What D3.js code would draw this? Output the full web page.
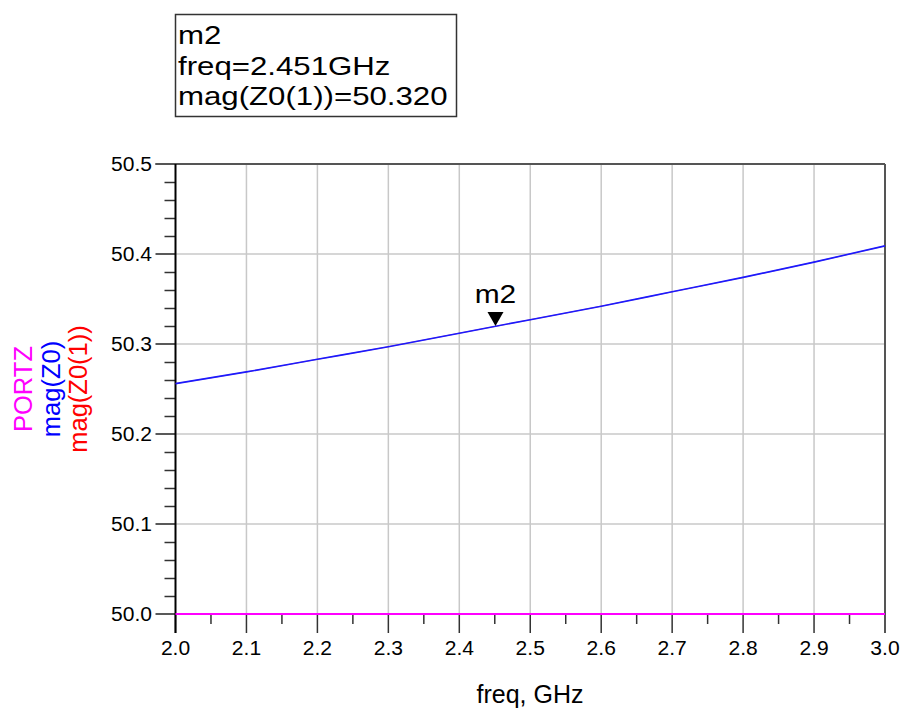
<!DOCTYPE html>
<html><head><meta charset="utf-8">
<script src="https://cdn.jsdelivr.net/npm/d3@7"></script>
<style>body{margin:0;background:#fff}svg{display:block}text{font-family:"Liberation Sans",Arial,sans-serif}</style>
</head><body><svg id="c" width="904" height="712"></svg>
<script>
const freq = [2.0,2.1,2.2,2.3,2.4,2.5,2.6,2.7,2.8,2.9,3.0];
const magZ0 = [50.256,50.269,50.283,50.297,50.312,50.327,50.342,50.358,50.374,50.391,50.409];
const magZ01 = [50.256,50.269,50.283,50.297,50.312,50.327,50.342,50.358,50.374,50.391,50.409];
const portz = [50.0,50.0,50.0,50.0,50.0,50.0,50.0,50.0,50.0,50.0,50.0];
const xTicks = [2.0,2.1,2.2,2.3,2.4,2.5,2.6,2.7,2.8,2.9,3.0];
const yTicks = [50.0,50.1,50.2,50.3,50.4,50.5];
const marker = {name:"m2", freq:2.451, value:50.320};
const legend = [{t:"PORTZ",c:"#ff00ff"},{t:"mag(Z0)",c:"#0000ff"},{t:"mag(Z0(1))",c:"#ff0000"}];

const svg = d3.select("#c");
const x = d3.scaleLinear().domain([2.0,3.0]).range([175.5,885]);
const y = d3.scaleLinear().domain([50.0,50.5]).range([614,164]);

function wideText(parent, tx, ty, str, size, sx, anchor, fill){
  return parent.append("text").attr("transform",`translate(${tx},${ty}) scale(${sx},1)`)
   .attr("text-anchor",anchor||"start").attr("font-size",size).attr("fill",fill||"#000").text(str);
}

// grid
const g = svg.append("g");
g.selectAll(".vg").data(xTicks.slice(1,-1)).enter().append("line")
 .attr("x1",d=>x(d)).attr("x2",d=>x(d)).attr("y1",y(50.5)).attr("y2",y(50.0))
 .attr("stroke","#c8c8c8").attr("stroke-width",1.5);
g.selectAll(".hg").data(yTicks.slice(1,-1)).enter().append("line")
 .attr("x1",x(2.0)).attr("x2",x(3.0)).attr("y1",d=>y(d)).attr("y2",d=>y(d))
 .attr("stroke","#c8c8c8").attr("stroke-width",1.5);

// minor ticks
const yMinor = d3.range(0,26).map(i=>50+i*0.02).filter(v=>Math.round(v*50)%5!==0);
g.selectAll(".ym").data(yMinor).enter().append("line")
 .attr("x1",x(2.0)-11).attr("x2",x(2.0)).attr("y1",d=>Math.round(y(d))+0.5).attr("y2",d=>Math.round(y(d))+0.5)
 .attr("stroke","#333").attr("stroke-width",1.5);
const xMinor = d3.range(0,10).map(i=>2.05+i*0.1);
g.selectAll(".xm").data(xMinor).enter().append("line")
 .attr("x1",d=>x(d)).attr("x2",d=>x(d)).attr("y1",y(50)).attr("y2",y(50)+10)
 .attr("stroke","#333").attr("stroke-width",1.5);

// major ticks
g.selectAll(".yM").data(yTicks).enter().append("line")
 .attr("x1",x(2.0)-20).attr("x2",x(2.0)).attr("y1",d=>y(d)).attr("y2",d=>y(d))
 .attr("stroke","#222").attr("stroke-width",1.5);
g.selectAll(".xM").data(xTicks).enter().append("line")
 .attr("x1",d=>x(d)).attr("x2",d=>x(d)).attr("y1",y(50)).attr("y2",y(50)+19)
 .attr("stroke","#333").attr("stroke-width",1.5);

// frame
g.append("line").attr("x1",x(2.0)-20).attr("x2",x(3.0)).attr("y1",y(50.5)).attr("y2",y(50.5)).attr("stroke","#555").attr("stroke-width",2);
g.append("line").attr("x1",x(3.0)).attr("x2",x(3.0)).attr("y1",y(50.5)).attr("y2",y(50)+19).attr("stroke","#555").attr("stroke-width",2);
g.append("line").attr("x1",x(2.0)).attr("x2",x(2.0)).attr("y1",y(50.5)).attr("y2",y(50)+19).attr("stroke","#000").attr("stroke-width",2);
g.append("line").attr("x1",x(2.0)).attr("x2",x(3.0)).attr("y1",y(50)).attr("y2",y(50)).attr("stroke","#000").attr("stroke-width",1.5);

// tick labels
yTicks.forEach(d=>wideText(g, 152, y(d)+7, d.toFixed(1), 19.5, 1.08, "end", "#000"));
xTicks.forEach(d=>wideText(g, x(d), 655, d.toFixed(1), 19.5, 1.08, "middle", "#000"));

// axis title
svg.append("text").attr("x",530).attr("y",703).attr("text-anchor","middle")
 .attr("font-size",25).attr("fill","#000").text("freq, GHz");

// legend (rotated)
const lg = svg.append("g").attr("transform","translate(0,389) rotate(-90)");
lg.selectAll("text").data(legend).enter().append("text")
 .attr("x",0).attr("y",(d,i)=>32+i*27.5).attr("text-anchor","middle")
 .attr("font-size",25.5).attr("fill",d=>d.c).text(d=>d.t);

// traces
const line = d3.line().x((d,i)=>x(freq[i])).y(d=>y(d)).curve(d3.curveMonotoneX);
svg.append("path").datum(magZ01).attr("d",line).attr("fill","none").attr("stroke","#ff0000").attr("stroke-width",0.6);
svg.append("path").datum(magZ0).attr("d",line).attr("fill","none").attr("stroke","#1a1aff").attr("stroke-width",1.6);
svg.append("path").datum(portz).attr("d",line).attr("fill","none").attr("stroke","#ff00ff").attr("stroke-width",2);

// marker
const mx = x(marker.freq), my = y(marker.value);
svg.append("path").attr("d",`M${mx-8},${my-14}L${mx+8},${my-14}L${mx},${my}Z`).attr("fill","#000");
wideText(svg, mx, 303, marker.name, 26, 1.15, "middle");

// marker box
svg.append("rect").attr("x",175.5).attr("y",14.5).attr("width",281).attr("height",102)
 .attr("fill","#fff").attr("stroke","#333").attr("stroke-width",1.5);
const boxLines = [marker.name, `freq=${marker.freq.toFixed(3)}GHz`, `mag(Z0(1))=${marker.value.toFixed(3)}`];
boxLines.forEach((s,i)=>wideText(svg, 178, 44+i*30.5, s, 26, 1.2));
</script></body></html>
